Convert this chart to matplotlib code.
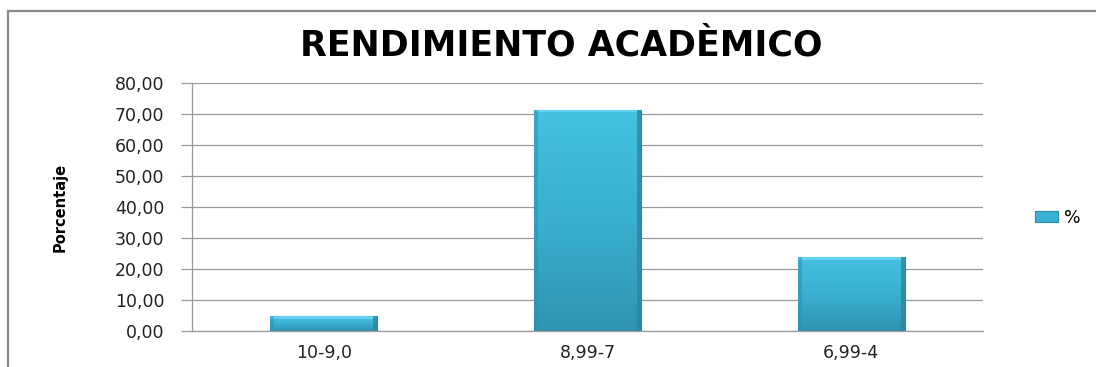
import numpy as np
import matplotlib.pyplot as plt
from matplotlib.colors import LinearSegmentedColormap
from matplotlib.lines import Line2D
from matplotlib.patches import Rectangle
from matplotlib.ticker import FuncFormatter, MultipleLocator

# data
categorias = ["10-9,0", "8,99-7", "6,99-4"]
porcentajes = [4.76, 71.43, 23.81]
serie = "%"
titulo = "RENDIMIENTO ACADÈMICO"

W, H = 1096, 367
fig = plt.figure(figsize=(W / 100, H / 100), dpi=100)

# chart frame (top and left edges only)
gris = "#8a8a8a"
fig.add_artist(Line2D([8 / W, 1], [1 - 11 / H, 1 - 11 / H], color=gris, lw=1.6))
fig.add_artist(Line2D([8 / W, 8 / W], [0, 1 - 11 / H], color=gris, lw=1.6))

ax = fig.add_axes([192 / W, 1 - 331 / H, (983 - 192) / W, (331 - 83) / H])

x = np.arange(len(categorias))
barras = ax.bar(x, porcentajes, width=0.405, color="#3bb2d4",
                edgecolor="#2a8aa5", linewidth=0.8, zorder=2, label=serie)

# vertical gradient + bevel on each bar
cmap = LinearSegmentedColormap.from_list("azul", ["#45c1e1", "#3aafd0", "#2f94b0"])
grad = np.linspace(0, 1, 256).reshape(-1, 1)
for b in barras:
    bx, by, bw, bh = b.get_x(), b.get_y(), b.get_width(), b.get_height()
    im = ax.imshow(grad, cmap=cmap, extent=[bx, bx + bw, by, by + bh],
                   aspect="auto", zorder=2.1, origin="upper")
    im.set_clip_path(b)
    lado = bw * 0.035
    ax.add_patch(Rectangle((bx, by + bh - 0.9), bw, 0.9, color="#62d2ee",
                           lw=0, zorder=2.2))
    ax.add_patch(Rectangle((bx + bw - lado, by), lado, bh, color="#2c87a1",
                           lw=0, zorder=2.2, alpha=0.8))
    ax.add_patch(Rectangle((bx, by), lado, bh, color="#2e90ab",
                           lw=0, zorder=2.2, alpha=0.5))

ax.set_xlim(-0.5, len(categorias) - 0.5)
ax.set_ylim(0, 80)
ax.yaxis.set_major_locator(MultipleLocator(10))
ax.yaxis.set_major_formatter(FuncFormatter(lambda v, p: f"{v:.2f}".replace(".", ",")))
ax.set_xticks(x)
ax.set_xticklabels(categorias)

gris_rejilla = "#9a9a9a"
ax.grid(axis="y", color=gris_rejilla, lw=0.9, zorder=0)
ax.set_axisbelow(True)
for s in ["top", "right"]:
    ax.spines[s].set_visible(False)
for s in ["left", "bottom"]:
    ax.spines[s].set_color(gris_rejilla)
    ax.spines[s].set_linewidth(0.9)

ax.tick_params(axis="y", length=8, width=0.9, color=gris_rejilla, pad=12,
               labelsize=12.5, labelcolor="#222222")
ax.tick_params(axis="x", length=0, pad=9, labelsize=12.5, labelcolor="#222222")

ax.set_ylabel("Porcentaje", fontsize=10.5, fontweight="bold", labelpad=0)
ax.yaxis.set_label_coords((68 - 192) / (983 - 192), (331 - 207) / (331 - 83))

fig.text(561 / W, 1 - 45 / H, titulo, ha="center", va="center",
         fontsize=25, fontweight="bold", color="black")

leg = ax.legend(loc="center left", bbox_to_anchor=((1028 - 192) / (983 - 192), (331 - 218) / (331 - 83)),
                frameon=False, fontsize=12.5, handlelength=1.3, handleheight=0.6,
                handletextpad=0.4, borderaxespad=0)

fig.savefig("out.png", dpi=100)
